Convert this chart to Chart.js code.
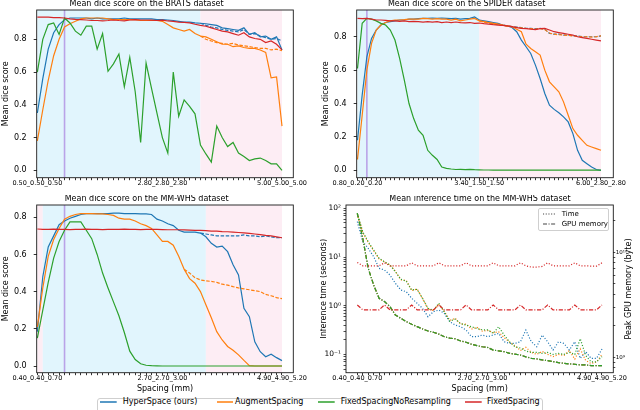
<!DOCTYPE html>
<html>
<head>
<meta charset="utf-8">
<script src="https://cdn.jsdelivr.net/npm/chart.js@4.4.1/dist/chart.umd.min.js"></script>
<style>
  html, body { margin: 0; padding: 0; background: #fff; }
  body { width: 640px; height: 410px; overflow: hidden; position: relative; font-family: 'DejaVu Sans', sans-serif; color: #000; }
  canvas { position: absolute; }
  .abs { position: absolute; white-space: nowrap; }
</style>
</head>
<body>
<canvas id="c1" width="320" height="195" style="left:0;top:0"></canvas>
<canvas id="c2" width="320" height="195" style="left:320px;top:0"></canvas>
<canvas id="c3" width="320" height="200" style="left:0;top:195px"></canvas>
<canvas id="c4" width="320" height="200" style="left:320px;top:195px"></canvas>
<div class="abs" id="rightTitle" style="left:629px;top:288.6px;font-size:8px;line-height:8px;transform:translate(-50%,-50%) rotate(-90deg);">Peak GPU memory (byte)</div>
<div id="legendBox" class="abs" style="left:97px;top:397.5px;width:446px;height:18px;border:1px solid #cfcfcf;border-radius:3px;box-sizing:border-box;background:#fff"></div>
<div id="innerLegend" class="abs" style="left:538px;top:207.7px;width:71px;height:23.3px;border:1px solid #cfcfcf;border-radius:2px;box-sizing:border-box;background:rgba(255,255,255,0.85)"></div>
<script>
// ---------------- data ----------------
const seriesNames = ['HyperSpace (ours)', 'AugmentSpacing', 'FixedSpacingNoResampling', 'FixedSpacing'];
const seriesColors = ['#1f77b4', '#ff7f0e', '#2ca02c', '#d62728'];

const diceTicks = [0.0, 0.2, 0.4, 0.6, 0.8];

// BRATS (46 spacings)
const bratsTickPos = [0, 23, 45];
const bratsTickText = ['0.50_0.50_0.50', '2.80_2.80_2.80', '5.00_5.00_5.00'];
const bratsHyper = [0.35,0.56,0.74,0.84,0.89,0.92,0.93,0.93,0.93,0.93,
  0.925,0.93,0.925,0.925,0.925,0.925,0.93,0.925,0.925,0.925,
  0.925,0.925,0.92,0.92,0.918,0.915,0.91,0.905,0.905,0.90,
  0.898,0.895,0.89,0.885,0.87,0.865,0.86,0.855,0.87,0.83,
  0.84,0.815,0.82,0.80,0.815,0.735];
const bratsHyperDash = [null,null,null,null,null,null,null,null,null,null,
  null,null,null,null,null,null,null,null,null,null,
  null,null,null,null,null,null,null,null,null,null,
  0.898,0.885,0.875,0.87,0.86,0.855,0.85,0.845,0.86,0.83,
  0.835,0.82,0.81,0.80,0.805,0.79];
const bratsAugment = [0.18,0.37,0.55,0.70,0.80,0.875,0.895,0.91,0.925,0.93,
  0.93,0.93,0.93,0.925,0.92,0.92,0.92,0.92,0.92,0.915,
  0.915,0.915,0.915,0.91,0.89,0.87,0.86,0.85,0.86,0.835,
  0.82,0.815,0.80,0.785,0.77,0.77,0.755,0.76,0.75,0.745,
  0.745,0.735,0.72,0.565,0.57,0.27];
const bratsAugmentDash = [null,null,null,null,null,null,null,null,null,null,
  null,null,null,null,null,null,null,null,null,null,
  null,null,null,null,null,null,null,null,null,null,
  0.82,0.80,0.79,0.78,0.775,0.77,0.775,0.765,0.76,0.755,
  0.75,0.745,0.745,0.735,0.74,0.73];
const bratsNoResample = [0.60,0.80,0.89,0.90,0.83,0.93,0.90,0.85,0.825,0.88,
  0.88,0.74,0.835,0.605,0.65,0.71,0.51,0.69,0.48,0.17,
  0.655,0.50,0.35,0.20,0.105,0.60,0.33,0.43,0.39,0.345,
  0.155,0.10,0.05,0.27,0.20,0.145,0.17,0.105,0.085,0.06,
  0.07,0.075,0.06,0.04,0.04,0.0];
const bratsFixed = [0.935,0.935,0.935,0.933,0.932,0.93,0.925,0.922,0.92,0.918,
  0.915,0.915,0.913,0.915,0.918,0.915,0.913,0.918,0.92,0.918,
  0.918,0.917,0.915,0.917,0.912,0.91,0.905,0.903,0.90,0.892,
  0.885,0.88,0.87,0.86,0.85,0.845,0.835,0.825,0.84,0.815,
  0.805,0.80,0.78,0.79,0.77,0.735];

// SPIDER (53 spacings)
const spiderTickPos = [0, 26, 52];
const spiderTickText = ['0.80_0.20_0.20', '3.40_1.50_1.50', '6.00_2.80_2.80'];
const spiderHyper = [0.18,0.45,0.68,0.79,0.84,0.87,0.885,0.89,0.895,0.90,
  0.90,0.905,0.905,0.908,0.91,0.91,0.912,0.91,0.912,0.91,
  0.908,0.91,0.905,0.908,0.91,0.918,0.90,0.895,0.89,0.885,
  0.88,0.87,0.865,0.855,0.83,0.78,0.74,0.70,0.63,0.55,
  0.46,0.39,0.365,0.345,0.32,0.29,0.22,0.12,0.06,0.04,
  0.02,0.005,0.0];
const spiderHyperDash = [null,null,null,null,null,null,null,null,null,null,
  null,null,null,null,null,null,null,null,null,null,
  null,null,null,null,null,null,
  0.90,0.89,0.885,0.88,0.875,0.87,0.865,0.86,0.858,0.855,
  0.85,0.85,0.848,0.85,0.845,0.82,0.815,0.815,0.81,0.81,
  0.805,0.805,0.80,0.80,0.80,0.80,0.805];
const spiderAugment = [0.065,0.33,0.60,0.76,0.84,0.87,0.885,0.895,0.90,0.90,
  0.902,0.905,0.905,0.905,0.91,0.908,0.905,0.908,0.905,0.905,
  0.90,0.905,0.895,0.90,0.905,0.91,0.895,0.89,0.885,0.88,
  0.875,0.87,0.865,0.86,0.845,0.83,0.755,0.73,0.71,0.69,
  0.60,0.53,0.50,0.47,0.41,0.33,0.25,0.21,0.18,0.15,
  0.14,0.13,0.12];
const spiderAugmentDash = [null,null,null,null,null,null,null,null,null,null,
  null,null,null,null,null,null,null,null,null,null,
  null,null,null,null,null,null,
  0.895,0.888,0.883,0.878,0.873,0.868,0.863,0.86,0.856,0.853,
  0.85,0.848,0.846,0.848,0.843,0.822,0.815,0.812,0.81,0.808,
  0.805,0.802,0.80,0.80,0.798,0.80,0.805];
const spiderNoResample = [0.61,0.88,0.91,0.905,0.895,0.88,0.87,0.84,0.78,0.67,
  0.54,0.40,0.31,0.24,0.21,0.12,0.09,0.065,0.02,0.012,
  0.008,0.005,0.006,0.004,0.006,0.004,0.003,0.002,0.002,0.001,
  0.001,0.001,0.001,0.001,0.001,0.001,0.001,0.001,0.001,0.001,
  0.001,0.001,0.001,0.001,0.001,0.001,0.001,0.001,0.001,0.001,
  0.001,0.001,0.001];
const spiderFixed = [0.91,0.908,0.91,0.905,0.90,0.90,0.898,0.895,0.895,0.892,
  0.895,0.89,0.892,0.89,0.888,0.89,0.888,0.89,0.885,0.888,
  0.885,0.888,0.885,0.883,0.885,0.88,0.882,0.878,0.875,0.872,
  0.87,0.868,0.865,0.86,0.855,0.85,0.848,0.845,0.843,0.848,
  0.85,0.84,0.83,0.825,0.82,0.815,0.81,0.80,0.795,0.79,
  0.785,0.78,0.775];

// MM-WHS (46 spacings)
const whsTickPos = [0, 23, 45];
const whsTickText = ['0.40_0.40_0.70', '2.70_2.70_3.00', '4.90_4.90_5.20'];
const whsHyper = [0.185,0.48,0.64,0.70,0.76,0.78,0.795,0.805,0.815,0.82,
  0.82,0.82,0.82,0.82,0.822,0.822,0.82,0.82,0.82,0.818,
  0.818,0.815,0.79,0.78,0.765,0.755,0.73,0.72,0.72,0.72,
  0.715,0.695,0.66,0.64,0.645,0.615,0.545,0.49,0.31,0.265,
  0.13,0.077,0.05,0.063,0.045,0.029];
const whsHyperDash = [null,null,null,null,null,null,null,null,null,null,
  null,null,null,null,null,null,null,null,null,null,
  null,null,null,null,null,null,null,null,null,null,
  0.715,0.71,0.705,0.70,0.70,0.70,0.70,0.70,0.705,0.70,
  0.70,0.695,0.70,0.695,0.69,0.69];
const whsAugment = [0.21,0.42,0.59,0.68,0.74,0.79,0.805,0.815,0.82,0.82,
  0.82,0.818,0.818,0.815,0.81,0.795,0.79,0.79,0.78,0.765,
  0.755,0.74,0.705,0.67,0.67,0.65,0.59,0.52,0.47,0.445,
  0.40,0.33,0.26,0.185,0.14,0.105,0.085,0.06,0.03,0.002,
  0.0,0.0,0.0,0.0,0.0,0.0];
const whsAugmentDash = [null,null,null,null,null,null,null,null,null,null,
  null,null,null,null,null,null,null,null,null,null,
  null,null,null,null,null,null,null,
  0.52,0.50,0.475,0.463,0.458,0.455,0.45,0.44,0.435,0.427,
  0.42,0.415,0.41,0.405,0.40,0.385,0.378,0.368,0.362];
const whsNoResample = [0.15,0.30,0.45,0.58,0.67,0.73,0.775,0.775,0.775,0.73,
  0.685,0.60,0.50,0.42,0.345,0.27,0.18,0.08,0.035,0.012,
  0.004,0.002,0.001,0.0,0.0,0.0,0.0,0.0,0.0,0.0,
  0.0,0.0,0.0,0.0,0.0,0.0,0.0,0.0,0.0,0.0,
  0.0,0.0,0.0,0.0,0.0,0.0];
const whsFixed = [0.737,0.735,0.735,0.736,0.735,0.735,0.734,0.735,0.735,0.736,
  0.735,0.735,0.734,0.735,0.735,0.735,0.736,0.735,0.735,0.734,
  0.735,0.735,0.735,0.734,0.733,0.733,0.733,0.732,0.731,0.730,
  0.729,0.728,0.726,0.725,0.723,0.722,0.72,0.718,0.716,0.713,
  0.71,0.707,0.703,0.70,0.695,0.69];

// MM-WHS inference time (seconds) and peak GPU memory (bytes)
const timeTicks = [0.1, 1, 10, 100];
const memoryTicks = [1e9, 1e10];
const timeHyper = [53.2,20.7,15.1,10.2,5.85,5.41,4.27,2.88,2.10,1.94,
  1.42,1.12,0.88,0.594,0.754,0.814,0.695,0.469,0.401,0.370,
  0.316,0.231,0.231,0.25,0.231,0.25,0.27,0.182,0.168,0.168,
  0.182,0.316,0.182,0.144,0.25,0.182,0.123,0.182,0.168,0.123,
  0.182,0.083,0.114,0.083,0.083,0.129];
const timeAugment = [76,32,20,13.5,9.2,7.9,6.9,5.1,3.4,3.3,
  2.05,2.2,1.4,0.86,0.80,1.05,0.76,0.50,0.55,0.42,
  0.42,0.33,0.36,0.30,0.31,0.28,0.29,0.22,0.18,0.15,
  0.12,0.14,0.11,0.10,0.115,0.10,0.09,0.10,0.095,0.12,
  0.08,0.13,0.075,0.065,0.07,0.10];
const timeNoResample = [78.9,33,20.6,13.9,9.4,8.0,6.85,5.0,3.5,3.2,
  2.1,2.17,1.42,0.88,0.81,1.12,0.75,0.48,0.53,0.43,
  0.40,0.37,0.34,0.32,0.32,0.27,0.37,0.25,0.18,0.144,
  0.135,0.117,0.11,0.11,0.105,0.11,0.10,0.105,0.10,0.11,
  0.10,0.21,0.095,0.07,0.07,0.09];
const timeFixed = [7.7,6.6,6.6,6.6,6.6,7.6,6.6,6.6,6.6,6.6,
  7.6,6.6,6.6,6.6,6.6,7.6,6.6,6.6,6.6,6.6,
  7.6,6.6,6.6,6.6,6.6,7.6,6.6,6.6,6.6,6.6,
  7.6,6.6,6.2,6.2,6.4,7.6,6.6,6.6,6.6,6.6,
  7.6,6.6,6.6,6.5,6.5,7.6];
const memResampled = [2.35e10,1.36e10,7.05e9,4.89e9,3.65e9,3.39e9,3.04e9,2.53e9,2.35e9,2.19e9,
  2.06e9,1.96e9,1.86e9,1.78e9,1.73e9,1.66e9,1.57e9,1.52e9,1.50e9,1.43e9,
  1.39e9,1.33e9,1.29e9,1.26e9,1.24e9,1.17e9,1.15e9,1.13e9,1.09e9,1.07e9,
  1.05e9,1.01e9,9.78e8,9.64e8,9.44e8,9.30e8,9.10e8,8.90e8,8.77e8,8.65e8,
  8.58e8,8.45e8,8.45e8,8.33e8,8.33e8,8.33e8];
const memFixed = [3.15e9,2.83e9,2.83e9,2.83e9,2.83e9,3.15e9,2.83e9,2.83e9,2.83e9,2.83e9,
  3.15e9,2.83e9,2.83e9,2.83e9,2.83e9,3.15e9,2.83e9,2.83e9,2.83e9,2.83e9,
  3.15e9,2.83e9,2.83e9,2.83e9,2.83e9,3.15e9,2.83e9,2.83e9,2.83e9,2.83e9,
  3.15e9,2.83e9,2.83e9,2.83e9,2.83e9,3.15e9,2.83e9,2.83e9,2.83e9,2.83e9,
  3.15e9,2.83e9,2.83e9,2.83e9,2.83e9,3.15e9];

// ---------------- rendering ----------------
const FONT = "'DejaVu Sans', sans-serif";
Chart.defaults.font.family = FONT;
Chart.defaults.color = '#000';
Chart.defaults.animation = false;

const BLUE_BG = '#e1f5fd', PINK_BG = '#fdedf4';
const DASH = [3.5, 1.6], DOT = [1.1, 1.8], DASHDOT = [4.2, 1.6, 1.1, 1.6];

const SUP = {'-':'\u207b','0':'\u2070','1':'\u00b9','2':'\u00b2','3':'\u00b3','4':'\u2074','5':'\u2075','6':'\u2076','7':'\u2077','8':'\u2078','9':'\u2079'};
function pow10Label(v) {
  const e = Math.log10(v), r = Math.round(e);
  if (Math.abs(e - r) > 1e-6) return '';
  return '10' + String(r).split('').map(c => SUP[c]).join('');
}
function logTicks(majors, min, max) {
  const out = [];
  const decades = [majors[0] / 10].concat(majors);
  for (const d of decades) for (let k = 1; k < 10; k++) {
    const v = d * k;
    if (v >= min && v <= max) out.push({value: v});
  }
  return out;
}

const framePlugin = {
  id: 'frame',
  beforeDatasetsDraw(chart, args, o) {
    const {ctx, chartArea: a} = chart;
    const x = chart.scales.x;
    ctx.save();
    for (const s of (o.spans || [])) {
      const x0 = x.getPixelForValue(s[0]), x1 = x.getPixelForValue(s[1]);
      ctx.fillStyle = s[2];
      ctx.fillRect(x0, a.top, x1 - x0, a.bottom - a.top);
    }
    if (o.vline !== undefined && o.vline !== null) {
      const px = x.getPixelForValue(o.vline);
      ctx.strokeStyle = '#b9a3e8';
      ctx.lineWidth = 1.6;
      ctx.beginPath(); ctx.moveTo(px, a.top); ctx.lineTo(px, a.bottom); ctx.stroke();
    }
    ctx.restore();
  },
  afterDatasetsDraw(chart) {
    const {ctx, chartArea: a} = chart;
    ctx.save();
    ctx.strokeStyle = '#1a1a1a';
    ctx.lineWidth = 0.9;
    ctx.strokeRect(a.left, a.top, a.right - a.left, a.bottom - a.top);
    ctx.restore();
  }
};

function series(label, data, color, dash, order, axis) {
  return {label, data, borderColor: color, backgroundColor: color, borderWidth: 1.2,
    borderDash: dash || [], pointRadius: 0, tension: 0, fill: false, order, yAxisID: axis || 'y'};
}

function xScale(n, min, max, tickPos, tickText, height, title) {
  const names = {};
  tickPos.forEach((p, i) => { names[p] = tickText[i]; });
  return {
    type: 'linear', min, max,
    afterBuildTicks: s => { s.ticks = Array.from({length: n}, (_, i) => ({value: i})); },
    ticks: {autoSkip: false, maxRotation: 0, minRotation: 0, padding: 0, color: '#000',
      font: {size: 6.5, lineHeight: 1}, callback: v => (names[v] !== undefined ? names[v] : '')},
    grid: {display: true, drawOnChartArea: false, drawTicks: true, tickLength: 2.5, tickColor: '#000', tickWidth: 0.8},
    border: {display: false},
    title: title ? {display: true, text: title, color: '#000', font: {size: 8, lineHeight: 1}, padding: {top: 0, bottom: 2.5}} : {display: false},
    afterFit: s => { s.height = height; s.paddingLeft = 0; s.paddingRight = 0; }
  };
}

function diceY(min, max) {
  return {
    type: 'linear', min, max,
    afterBuildTicks: s => { s.ticks = diceTicks.map(v => ({value: v})); },
    ticks: {padding: 7, color: '#000', font: {size: 8}, callback: v => v.toFixed(1)},
    grid: {display: true, drawOnChartArea: false, drawTicks: true, tickLength: 3, tickColor: '#000', tickWidth: 0.8},
    border: {display: false},
    title: {display: true, text: 'Mean dice score', color: '#000', font: {size: 8, lineHeight: 1}, padding: {top: 1.5, bottom: 0}},
    afterFit: s => { s.width = 36.7; s.paddingTop = 0; s.paddingBottom = 0; }
  };
}

function labelsFor(n) { return Array.from({length: n}, (_, i) => i); }

function diceChart(id, title, n, xmin, xmax, tickPos, tickText, ymin, ymax, xHeight, xTitle, spans, vline, d) {
  return new Chart(document.getElementById(id), {
    type: 'line',
    data: {
      labels: labelsFor(n),
      datasets: [
        series(seriesNames[0], d.hyper, seriesColors[0], null, 4),
        series(seriesNames[0] + ' (dashed)', d.hyperDash, seriesColors[0], DASH, 4),
        series(seriesNames[1], d.augment, seriesColors[1], null, 3),
        series(seriesNames[1] + ' (dashed)', d.augmentDash, seriesColors[1], DASH, 3),
        series(seriesNames[2], d.noResample, seriesColors[2], null, 2),
        series(seriesNames[3], d.fixed, seriesColors[3], null, 1)
      ]
    },
    options: {
      responsive: false, animation: false, events: [],
      layout: {padding: {top: 0.6, right: 26.7, bottom: 0, left: 0}},
      plugins: {
        legend: {display: false}, tooltip: {enabled: false},
        title: {display: true, text: title, color: '#000', font: {size: 8, lineHeight: 0.8, weight: 'normal'}, padding: {top: 0, bottom: 3}},
        frame: {spans, vline}
      },
      scales: {
        x: xScale(n, xmin, xmax, tickPos, tickText, xHeight, xTitle),
        y: diceY(ymin, ymax)
      }
    },
    plugins: [framePlugin]
  });
}

diceChart('c1', 'Mean dice score on the BRATS dataset', 46, -0.12, 47.08, bratsTickPos, bratsTickText,
  -0.045, 0.979, 17.3, null, [[0, 30, BLUE_BG], [30, 45, PINK_BG]], 5,
  {hyper: bratsHyper, hyperDash: bratsHyperDash, augment: bratsAugment, augmentDash: bratsAugmentDash, noResample: bratsNoResample, fixed: bratsFixed});

diceChart('c2', 'Mean dice score on the SPIDER dataset', 53, -0.17, 54.63, spiderTickPos, spiderTickText,
  -0.044, 0.96, 17.3, null, [[0, 26, BLUE_BG], [26, 52, PINK_BG]], 2,
  {hyper: spiderHyper, hyperDash: spiderHyperDash, augment: spiderAugment, augmentDash: spiderAugmentDash, noResample: spiderNoResample, fixed: spiderFixed});

diceChart('c3', 'Mean dice score on the MM-WHS dataset', 46, -0.12, 47.08, whsTickPos, whsTickText,
  -0.036, 0.866, 22.3, 'Spacing (mm)', [[0, 1, PINK_BG], [1, 31, BLUE_BG], [31, 45, PINK_BG]], 5,
  {hyper: whsHyper, hyperDash: whsHyperDash, augment: whsAugment, augmentDash: whsAugmentDash, noResample: whsNoResample, fixed: whsFixed});

// Panel 4: inference time (left, log) and GPU memory (right, log)
const tMin = 0.0421, tMax = 116.9, mMin = 7.13e8, mMax = 2.82e10;
new Chart(document.getElementById('c4'), {
  type: 'line',
  data: {
    labels: labelsFor(46),
    datasets: [
      series(seriesNames[0] + ' time', timeHyper, seriesColors[0], DOT, 4, 'y'),
      series(seriesNames[1] + ' time', timeAugment, seriesColors[1], DOT, 3, 'y'),
      series(seriesNames[2] + ' time', timeNoResample, seriesColors[2], DOT, 2, 'y'),
      series(seriesNames[3] + ' time', timeFixed, seriesColors[3], DOT, 1, 'y'),
      series(seriesNames[0] + ' memory', memResampled, seriesColors[0], DASHDOT, 4, 'y2'),
      series(seriesNames[1] + ' memory', memResampled, seriesColors[1], DASHDOT, 3, 'y2'),
      series(seriesNames[2] + ' memory', memResampled, seriesColors[2], DASHDOT, 2, 'y2'),
      series(seriesNames[3] + ' memory', memFixed, seriesColors[3], DASHDOT, 1, 'y2')
    ]
  },
  options: {
    responsive: false, animation: false, events: [],
    layout: {padding: {top: 0.6, right: 0, bottom: 0, left: 0}},
    plugins: {
      legend: {display: false}, tooltip: {enabled: false},
      title: {display: true, text: 'Mean inference time on the MM-WHS dataset', color: '#000', font: {size: 8, lineHeight: 0.8, weight: 'normal'}, padding: {top: 0, bottom: 3}},
      frame: {}
    },
    scales: {
      x: xScale(46, -2.08, 47.08, whsTickPos, whsTickText, 22.3, 'Spacing (mm)'),
      y: {
        type: 'logarithmic', position: 'left', min: tMin, max: tMax,
        afterBuildTicks: s => { s.ticks = logTicks(timeTicks, tMin, tMax); },
        ticks: {autoSkip: false, padding: 2.5, color: '#000', font: {size: 7.5}, callback: v => pow10Label(v)},
        grid: {display: true, drawOnChartArea: false, drawTicks: true, tickLength: 2.5, tickColor: '#000', tickWidth: 0.7},
        border: {display: false},
        title: {display: true, text: 'Inference time (seconds)', color: '#000', font: {size: 8, lineHeight: 1}, padding: {top: 0, bottom: 0}},
        afterFit: s => { s.width = 26; s.paddingTop = 0; s.paddingBottom = 0; }
      },
      y2: {
        type: 'logarithmic', position: 'right', min: mMin, max: mMax,
        afterBuildTicks: s => { s.ticks = logTicks(memoryTicks, mMin, mMax); },
        ticks: {autoSkip: false, padding: 0.5, color: '#000', font: {size: 5.5}, callback: v => pow10Label(v)},
        grid: {display: true, drawOnChartArea: false, drawTicks: true, tickLength: 2, tickColor: '#000', tickWidth: 0.7},
        border: {display: false},
        title: {display: false},
        afterFit: s => { s.width = 26.7; s.paddingTop = 0; s.paddingBottom = 0; }
      }
    }
  },
  plugins: [framePlugin]
});

// ---------------- legends (HTML) ----------------
function sample(left, top, width, color, dash, lw) {
  const svg = document.createElementNS('http://www.w3.org/2000/svg', 'svg');
  svg.setAttribute('width', width); svg.setAttribute('height', 4);
  svg.style.position = 'absolute'; svg.style.left = left + 'px'; svg.style.top = (top - 2) + 'px';
  const ln = document.createElementNS('http://www.w3.org/2000/svg', 'line');
  ln.setAttribute('x1', 0); ln.setAttribute('x2', width); ln.setAttribute('y1', 2); ln.setAttribute('y2', 2);
  ln.setAttribute('stroke', color); ln.setAttribute('stroke-width', lw);
  if (dash) ln.setAttribute('stroke-dasharray', dash.join(' '));
  svg.appendChild(ln);
  document.body.appendChild(svg);
}
function text(left, centerY, str, size) {
  const d = document.createElement('div');
  d.className = 'abs';
  d.style.left = left + 'px';
  d.style.top = (centerY - size * 0.6) + 'px';
  d.style.fontSize = size + 'px';
  d.style.lineHeight = (size * 1.2) + 'px';
  d.textContent = str;
  document.body.appendChild(d);
}
const legendLineX = [100, 216.7, 318, 465];
const legendTextX = [122.7, 235, 340.7, 487];
seriesNames.forEach((name, i) => {
  sample(legendLineX[i], 401.7, 16.7, seriesColors[i], null, 1.5);
  text(legendTextX[i], 401.9, name, 8);
});
sample(543.3, 214.3, 13.4, '#444', [1.1, 1.6], 1.2);
text(561.7, 214.5, 'Time', 7);
sample(543.3, 224, 13.4, '#444', [4, 1.5, 1.1, 1.5], 1.2);
text(561.7, 224.2, 'GPU memory', 7);
</script>
</body>
</html>
